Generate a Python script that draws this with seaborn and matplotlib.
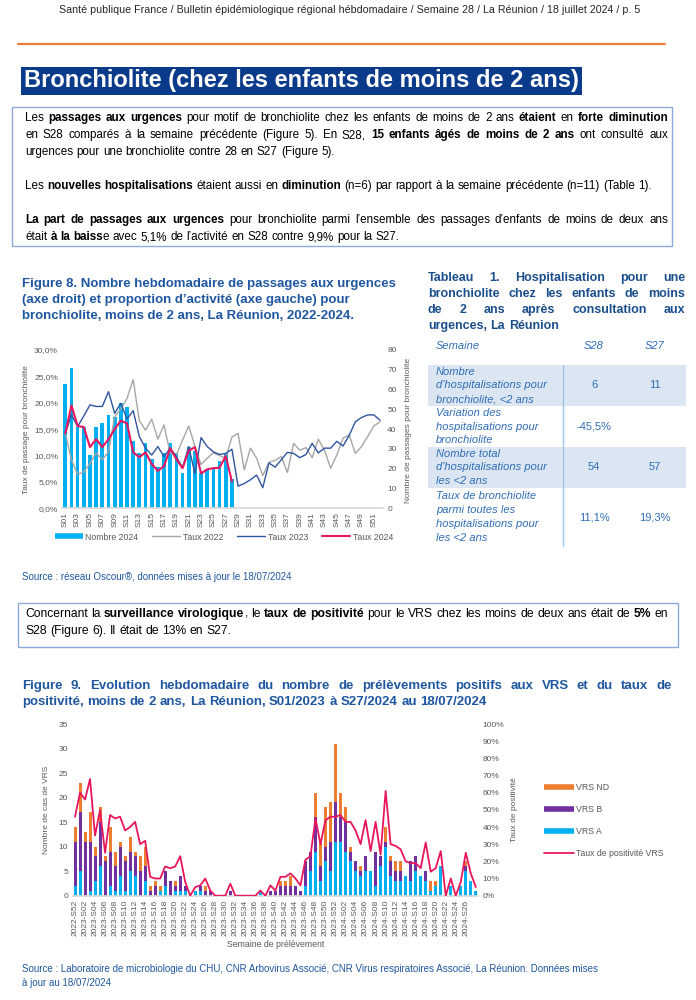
"""Bulletin page: bronchiolite figures 8 and 9 with table 1."""

import matplotlib

matplotlib.use("Agg")
import matplotlib.pyplot as plt
import numpy as np
import pandas as pd
import seaborn as sns
from matplotlib import font_manager
from matplotlib.lines import Line2D
from matplotlib.patches import Rectangle

# ---- Figure 8 data -------------------------------------------------------
semaines_8 = [f"S{i:02d}" for i in range(1, 53)]
nombre_2024 = [63, 71, 41, 41, 27, 41, 43, 47, 46, 53, 51, 34, 28, 33, 25, 21, 28,
               33, 28, 18, 31, 29, 18, 20, 20, 24, 28, 15]
taux_2024 = [14.2, 19.5, 15.6, 15.4, 11.6, 13.1, 11.6, 13.1, 15.0, 16.6, 16.1, 10.6,
             9.7, 10.6, 8.4, 7.1, 8.0, 11.4, 9.3, 7.6, 10.9, 11.6, 6.6, 7.4, 7.6, 7.7,
             9.9, 5.1]
taux_2023 = [14.2, 17.7, 15.5, 17.5, 19.6, 19.3, 19.3, 22.1, 18.0, 19.9, 16.9, 18.5,
             13.6, 11.4, 10.1, 11.7, 9.8, 11.4, 9.8, 7.7, 11.7, 6.6, 13.4, 11.7, 10.7,
             10.2, 10.4, 11.2, 4.2, 4.7, 5.4, 6.3, 3.9, 8.6, 7.8, 9.2, 10.6, 10.4, 9.6,
             10.2, 12.3, 10.5, 11.4, 11.4, 12.7, 11.8, 13.8, 16.4, 17.2, 17.7, 17.7, 16.7]
taux_2022 = [14.2, 9.2, 6.4, 6.9, 8.5, 10.5, 9.2, 10.7, 17.4, 18.8, 20.8, 24.4, 16.6,
             14.8, 16.9, 13.1, 15.8, 10.4, 10.1, 12.9, 15.6, 11.8, 8.3, 9.5, 10.5, 10.0,
             9.5, 13.5, 14.2, 7.3, 11.4, 9.5, 6.2, 8.7, 9.1, 9.8, 6.8, 12.3, 11.0, 11.5,
             9.6, 13.1, 11.0, 7.6, 10.1, 13.3, 13.9, 10.4, 11.7, 13.6, 15.6, 16.4]

# ---- Table 1 -------------------------------------------------------------
table_header = ["Semaine", "S28", "S27"]
table_labels = [
    ["Nombre", "d'hospitalisations pour", "bronchiolite, <2 ans"],
    ["Variation des", "hospitalisations pour", "bronchiolite"],
    ["Nombre total", "d'hospitalisations pour", "les <2 ans"],
    ["Taux de bronchiolite", "parmi toutes les", "hospitalisations pour", "les <2 ans"],
]
table_s28 = ["6", "-45,5%", "54", "11,1%"]
table_s27 = ["11", "", "57", "19,3%"]

# ---- Figure 9 data -------------------------------------------------------
semaines_9 = (["2022-S52"] + [f"2023-S{i:02d}" for i in range(1, 53)]
              + [f"2024-S{i:02d}" for i in range(1, 29)])
vrs_a = [2, 5, 0, 1, 3, 6, 0, 2, 1, 4, 1, 5, 4, 0, 3, 0, 0, 1, 2, 0, 1, 1, 1, 0, 1, 1,
         0, 0, 0, 0, 0, 0, 0, 0, 0, 0, 0, 1, 0, 0, 0, 0, 0, 0, 0, 0, 2, 5, 9, 3, 7, 5,
         11, 11, 9, 7, 5, 4, 5, 5, 2, 6, 10, 4, 3, 3, 4, 3, 5, 4, 3, 1, 2, 6, 0, 2, 0,
         2, 5, 3, 1]
vrs_b = [9, 12, 11, 10, 5, 9, 7, 7, 5, 6, 6, 4, 4, 5, 3, 1, 2, 0, 3, 3, 1, 3, 1, 0, 0,
         1, 1, 1, 0, 0, 0, 1, 0, 0, 0, 0, 0, 0, 0, 1, 1, 2, 2, 2, 2, 1, 5, 4, 7, 3, 3,
         6, 8, 5, 6, 2, 2, 1, 3, 0, 7, 2, 1, 3, 2, 2, 0, 4, 3, 0, 2, 0, 0, 0, 0, 0, 0,
         0, 1, 0, 0]
vrs_nd = [3, 6, 2, 6, 2, 3, 1, 5, 3, 1, 1, 3, 1, 3, 4, 1, 1, 1, 0, 0, 1, 0, 0, 0, 0,
          0, 1, 0, 0, 0, 0, 0, 0, 0, 0, 0, 0, 0, 0, 0, 0, 1, 1, 2, 0, 0, 0, 0, 5, 5, 8,
          8, 12, 5, 3, 1, 0, 1, 0, 0, 0, 0, 3, 1, 2, 2, 0, 0, 0, 0, 0, 2, 1, 0, 0, 0,
          0, 0, 1, 0, 0]
taux_positivite = [46, 60, 56, 68, 35, 50, 25, 47, 45, 46, 38, 40, 43, 30, 32, 11, 10,
                   10, 17, 16, 17, 23, 8, 0, 5, 6, 10, 3, 0, 0, 0, 7, 0, 0, 0, 0, 0, 3,
                   0, 6, 3, 11, 11, 13, 10, 6, 21, 23, 45, 30, 44, 46, 46, 47, 43, 43,
                   38, 30, 44, 26, 43, 24, 61, 30, 29, 27, 20, 19, 19, 16, 31, 14, 16,
                   26, 0, 10, 0, 8, 25, 13, 5]

sns.set_theme(style="white")


def has_font(name):
    try:
        font_manager.findfont(name, fallback_to_default=False)
        return True
    except ValueError:
        return False


SANS = "Liberation Sans" if has_font("Liberation Sans") else "DejaVu Sans"
plt.rcParams["font.family"] = [SANS, "DejaVu Sans"]

W, H = 696, 1000
HEAD_BLUE = "#1F57A0"
TAB_BLUE = "#2F6DB5"
GREY_TXT = "#595959"
CYAN = "#00B0F0"
PINK = "#E8175D"


def fx(px):
    return px / W


def fy(py):
    return 1 - py / H


def text_line(fig, x, y, segs, size, color="black", width=None):
    """Draw a line made of (text, bold) pieces, optionally justified."""
    r = fig.canvas.get_renderer()
    pieces, gap = [], False
    for txt, bold in segs:
        for k, part in enumerate(txt.split(" ")):
            if k > 0:
                gap = True
            if part:
                pieces.append((part, bold, gap and len(pieces) > 0))
                gap = False
    arts = [fig.text(0, fy(y), p, fontsize=size, color=color,
                     fontweight="bold" if b else "normal", va="center", ha="left")
            for p, b, _ in pieces]
    widths = [a.get_window_extent(r).width for a in arts]
    p1 = fig.text(0, 0, "n n", fontsize=size)
    p2 = fig.text(0, 0, "nn", fontsize=size)
    sp = p1.get_window_extent(r).width - p2.get_window_extent(r).width
    p1.remove()
    p2.remove()
    ngaps = sum(1 for p in pieces if p[2])
    if width is not None and ngaps:
        sp = (width - sum(widths)) / ngaps
    cx = x
    for a, w, p in zip(arts, widths, pieces):
        if p[2]:
            cx += sp
        a.set_x(fx(cx))
        cx += w


fig = plt.figure(figsize=(W / 100, H / 100), dpi=100)

# ---- page header ---------------------------------------------------------
fig.text(fx(350), fy(10), "Santé publique France / Bulletin épidémiologique régional "
         "hébdomadaire / Semaine 28 / La Réunion / 18 juillet 2024 / p. 5",
         ha="center", va="center", fontsize=7.7)
fig.add_artist(Line2D([fx(18), fx(665)], [fy(44), fy(44)], color="#F47A3C", lw=1.6))
fig.text(fx(24), fy(81), "Bronchiolite (chez les enfants de moins de 2 ans)",
         ha="left", va="center", fontsize=17, fontweight="bold", color="white",
         bbox=dict(boxstyle="square,pad=0.12", fc="#0A3A8A", ec="none"))

# ---- text box 1 ----------------------------------------------------------
fig.add_artist(Rectangle((fx(12), fy(246)), fx(660), 139 / H, fill=False,
                         ec="#8EAADB", lw=1))
box1 = [
    (118, [("Les ", 0), ("passages aux urgences", 1),
           (" pour motif de bronchiolite chez les enfants de moins de 2 ans ", 0),
           ("étaient", 1), (" en ", 0), ("forte diminution", 1)], True),
    (135, [("en S28 comparés à la semaine précédente (Figure 5). En S28, ", 0),
           ("15 enfants âgés de moins de 2 ans", 1), (" ont consulté aux", 0)], True),
    (152, [("urgences pour une bronchiolite contre 28 en S27 (Figure 5).", 0)], False),
    (186, [("Les ", 0), ("nouvelles hospitalisations", 1), (" étaient aussi en ", 0),
           ("diminution", 1),
           (" (n=6) par rapport à la semaine précédente (n=11) (Table 1).", 0)], False),
    (220, [("La part de passages aux urgences", 1),
           (" pour bronchiolite parmi l’ensemble des passages d’enfants de moins de deux ans", 0)],
     True),
    (237, [("était ", 0), ("à la baiss", 1),
           ("e avec 5,1% de l’activité en S28 contre 9,9% pour la S27.", 0)], False),
]
for y, segs, just in box1:
    text_line(fig, 25, y, segs, 8.4, width=643 if just else None)

# ---- figure 8 title ------------------------------------------------------
for y, line in [(284, "Figure 8. Nombre hebdomadaire de passages aux urgences"),
                (300, "(axe droit) et proportion d’activité (axe gauche) pour"),
                (316, "bronchiolite, moins de 2 ans, La Réunion, 2022-2024.")]:
    fig.text(fx(22), fy(y), line, fontsize=9.5, fontweight="bold", color=HEAD_BLUE,
             va="center")

# ---- figure 8 chart ------------------------------------------------------
ax8 = fig.add_axes([fx(62.2), fy(508.3), 320.9 / W, 158.3 / H])
df8 = pd.DataFrame({"semaine": semaines_8[:len(nombre_2024)], "nombre": nombre_2024})
sns.barplot(data=df8, x="semaine", y="nombre", order=semaines_8, color=CYAN,
            saturation=1, width=0.6, errorbar=None, linewidth=0, ax=ax8)
ax8t = ax8.twinx()
x8 = np.arange(len(semaines_8))
sns.lineplot(x=x8, y=taux_2022, ax=ax8t, color="#A6A6A6", lw=1)
sns.lineplot(x=x8, y=taux_2023, ax=ax8t, color="#2F55A0", lw=1)
sns.lineplot(x=x8[:len(taux_2024)], y=taux_2024, ax=ax8t, color=PINK, lw=1.5)
ax8.set_ylim(0, 80)
ax8.set_yticks(range(0, 81, 10))
ax8.yaxis.tick_right()
ax8t.set_ylim(0, 30)
ax8t.set_yticks(range(0, 31, 5))
ax8t.set_yticklabels([f"{v:.1f}%".replace(".", ",") for v in range(0, 31, 5)])
ax8t.yaxis.tick_left()
ax8.set_xlim(-0.5, len(semaines_8) - 0.5)
ax8.set_xticks(range(0, len(semaines_8), 2))
ax8.set_xticklabels(semaines_8[::2], rotation=90)
for a in (ax8, ax8t):
    a.set_xlabel("")
    a.set_ylabel("")
    for s in a.spines.values():
        s.set_visible(False)
    a.tick_params(length=0, labelsize=6, colors=GREY_TXT, pad=3)
ax8.spines["bottom"].set_visible(True)
ax8.spines["bottom"].set_color("#D9D9D9")
fig.text(fx(27), fy(430), "Taux de passage pour bronchiolite", rotation=90,
         ha="center", va="center", fontsize=6, color=GREY_TXT)
fig.text(fx(409), fy(430), "Nombre de passages pour bronchiolite", rotation=90,
         ha="center", va="center", fontsize=6, color=GREY_TXT)
h8 = [Line2D([0], [0], color=CYAN, lw=4, solid_capstyle="butt"),
      Line2D([0], [0], color="#A6A6A6", lw=1),
      Line2D([0], [0], color="#2F55A0", lw=1),
      Line2D([0], [0], color=PINK, lw=1.5)]
fig.legend(h8, ["Nombre 2024", "Taux 2022", "Taux 2023", "Taux 2024"], loc="center",
           bbox_to_anchor=(fx(224), fy(537)), ncol=4, frameon=False, fontsize=6.3,
           handlelength=3.2, handletextpad=0.3, columnspacing=1.6,
           labelcolor=GREY_TXT)
fig.text(fx(22), fy(577), "Source : réseau Oscour®, données mises à jour le 18/07/2024",
         fontsize=7, color=HEAD_BLUE, va="center")

# ---- table 1 -------------------------------------------------------------
for y, line, just in [(278, "Tableau 1. Hospitalisation pour une", True),
                      (294, "bronchiolite chez les enfants de moins", True),
                      (310, "de 2 ans après consultation aux", True),
                      (326, "urgences, La Réunion", False)]:
    text_line(fig, 428, y, [(line, 1)], 9.0, color="#1B4F8C",
              width=257 if just else None)
fig.text(fx(436), fy(346), table_header[0], fontsize=8, style="italic",
         color=TAB_BLUE, va="center")
fig.text(fx(594), fy(346), table_header[1], fontsize=8, style="italic",
         color=TAB_BLUE, va="center", ha="center")
fig.text(fx(655), fy(346), table_header[2], fontsize=8, style="italic",
         color=TAB_BLUE, va="center", ha="center")
row_bounds = [(365, 406), (406, 447), (447, 488), (488, 546)]
for i, (top, bot) in enumerate(row_bounds):
    if i % 2 == 0:
        fig.add_artist(Rectangle((fx(428), fy(bot)), 258 / W, (bot - top) / H,
                                 fc="#DCE6F2", ec="none"))
    lines = table_labels[i]
    mid = (top + bot) / 2
    for k, line in enumerate(lines):
        ly = mid + (k - (len(lines) - 1) / 2) * 13.8
        fig.text(fx(436), fy(ly), line, fontsize=8, style="italic", color=TAB_BLUE,
                 va="center")
    fig.text(fx(594), fy(mid), table_s28[i], fontsize=8, color=TAB_BLUE,
             va="center", ha="center")
    fig.text(fx(655), fy(mid), table_s27[i], fontsize=8, color=TAB_BLUE,
             va="center", ha="center")
fig.add_artist(Line2D([fx(563), fx(563)], [fy(365), fy(546)], color="#9DC3E6", lw=1))

# ---- text box 2 ----------------------------------------------------------
fig.add_artist(Rectangle((fx(18), fy(647)), fx(660), 44 / H, fill=False,
                         ec="#8EAADB", lw=1))
text_line(fig, 25, 614, [("Concernant la ", 0), ("surveillance virologique", 1),
                         (", le ", 0), ("taux de positivité", 1),
                         (" pour le VRS chez les moins de deux ans était de ", 0),
                         ("5%", 1), (" en", 0)], 8.7, width=643)
text_line(fig, 25, 631, [("S28 (Figure 6). Il était de 13% en S27.", 0)], 8.7)

# ---- figure 9 title ------------------------------------------------------
text_line(fig, 22, 686, [("Figure 9. Evolution hebdomadaire du nombre de prélèvements "
                          "positifs aux VRS et du taux de", 1)], 9.5,
          color=HEAD_BLUE, width=650)
text_line(fig, 22, 702, [("positivité, moins de 2 ans, La Réunion, S01/2023 à S27/2024 "
                          "au 18/07/2024", 1)], 9.5, color=HEAD_BLUE)

# ---- figure 9 chart ------------------------------------------------------
ax9 = fig.add_axes([fx(72.5), fy(895.7), 405.8 / W, 171.7 / H])
a = np.array(vrs_a)
b = np.array(vrs_b)
nd = np.array(vrs_nd)
for vals, col in [(a + b + nd, "#ED7D31"), (a + b, "#7030A0"), (a, CYAN)]:
    sns.barplot(x=semaines_9, y=vals, order=semaines_9, color=col, saturation=1,
                width=0.6, errorbar=None, linewidth=0, ax=ax9)
ax9.set_ylim(0, 35)
ax9.set_yticks(range(0, 36, 5))
ax9t = ax9.twinx()
sns.lineplot(x=np.arange(len(semaines_9)), y=taux_positivite, ax=ax9t, color=PINK,
             lw=1.3)
ax9t.set_ylim(0, 100)
ax9t.set_yticks(range(0, 101, 10))
ax9t.set_yticklabels([f"{v}%" for v in range(0, 101, 10)])
ax9.set_xlim(-0.5, len(semaines_9) - 0.5)
ax9.set_xticks(range(0, len(semaines_9) - 1, 2))
ax9.set_xticklabels(semaines_9[:-1:2], rotation=90)
for a_ in (ax9, ax9t):
    a_.set_ylabel("")
    for s in a_.spines.values():
        s.set_visible(False)
    a_.tick_params(length=0, labelsize=6, colors=GREY_TXT, pad=3)
ax9t.set_xlabel("")
ax9.set_xlabel("Semaine de prélèvement", fontsize=6.3, color=GREY_TXT, labelpad=3)
ax9.spines["bottom"].set_visible(True)
ax9.spines["bottom"].set_color("#D9D9D9")
fig.text(fx(47), fy(810), "Nombre de cas de VRS", rotation=90, ha="center",
         va="center", fontsize=6, color=GREY_TXT)
fig.text(fx(515), fy(810), "Taux de positivité", rotation=90, ha="center",
         va="center", fontsize=6, color=GREY_TXT)
h9 = [Line2D([0], [0], color="#ED7D31", lw=4, solid_capstyle="butt"),
      Line2D([0], [0], color="#7030A0", lw=4, solid_capstyle="butt"),
      Line2D([0], [0], color=CYAN, lw=4, solid_capstyle="butt"),
      Line2D([0], [0], color=PINK, lw=1.3)]
fig.legend(h9, ["VRS ND", "VRS B", "VRS A", "Taux de positivité VRS"],
           loc="upper left", bbox_to_anchor=(fx(536), fy(775)), frameon=False,
           fontsize=6.3, handlelength=3.4, handletextpad=0.3, labelspacing=1.5,
           labelcolor=GREY_TXT)

fig.text(fx(22), fy(969), "Source : Laboratoire de microbiologie du CHU, CNR Arbovirus "
         "Associé, CNR Virus respiratoires Associé, La Réunion. Données mises",
         fontsize=7, color=HEAD_BLUE, va="center")
fig.text(fx(22), fy(983), "à jour au 18/07/2024", fontsize=7, color=HEAD_BLUE,
         va="center")

fig.savefig("out.png", dpi=100)
